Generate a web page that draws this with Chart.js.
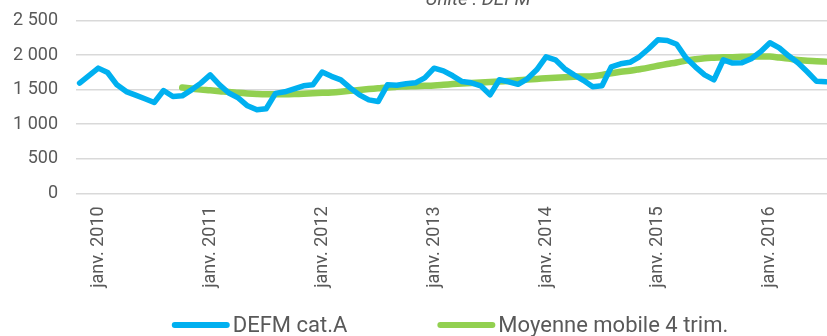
<!DOCTYPE html>
<html>
<head>
<meta charset="utf-8">
<script src="https://cdn.jsdelivr.net/npm/chart.js@4.4.1/dist/chart.umd.min.js"></script>
<style>
  html, body { margin: 0; padding: 0; background: #ffffff; overflow: hidden; width: 827px; height: 336px; }
  #wrap { position: absolute; left: 0; top: -13px; width: 900px; height: 349px; }
</style>
</head>
<body>
<div id="wrap"><canvas id="chart" width="900" height="349"></canvas></div>
<script>
// Monthly series, from novembre 2009 onwards
const monthNames = ['janv.', 'févr.', 'mars', 'avr.', 'mai', 'juin', 'juil.', 'août', 'sept.', 'oct.', 'nov.', 'déc.'];
const startYear = 2009;
const startMonth = 10; // index in monthNames: nov.

// Demandeurs d'emploi en fin de mois, catégorie A
const defmCatA = [
  1594, 1703, 1811, 1748, 1569, 1472, 1421, 1368, 1313, 1487,
  1400, 1410, 1497, 1594, 1714, 1569, 1451, 1380, 1266, 1208,
  1223, 1446, 1468, 1511, 1555, 1569, 1755, 1692, 1642, 1526,
  1424, 1352, 1327, 1569, 1562, 1584, 1598, 1670, 1810, 1772,
  1700, 1617, 1598, 1555, 1424, 1642, 1613, 1576, 1656, 1787,
  1975, 1931, 1801, 1714, 1634, 1540, 1555, 1830, 1874, 1895,
  1975, 2091, 2221, 2211, 2156, 1960, 1830, 1714, 1642, 1931,
  1884, 1888, 1946, 2047, 2178, 2105, 1989, 1888, 1758, 1620,
  1613
];

// Moyenne mobile sur 4 trimestres (first value available in oct. 2010)
const moyenneMobile = [
  null, null, null, null, null, null, null, null, null, null, null,
  1530, 1515, 1500, 1490, 1478, 1465, 1455, 1445, 1437, 1432,
  1432, 1432, 1435, 1440, 1447, 1453, 1460, 1470, 1482, 1495,
  1508, 1520, 1532, 1540, 1546, 1550, 1555, 1561, 1570, 1580,
  1588, 1595, 1603, 1610, 1617, 1625, 1635, 1645, 1655, 1664,
  1672, 1680, 1686, 1690, 1695, 1712, 1737, 1758, 1774, 1795,
  1818, 1845, 1870, 1893, 1920, 1940, 1955, 1962, 1967, 1970,
  1975, 1978, 1980, 1978, 1965, 1950, 1928, 1918, 1910, 1905
];

const xTickLabels = ['janv. 2010', 'janv. 2011', 'janv. 2012', 'janv. 2013', 'janv. 2014', 'janv. 2015', 'janv. 2016'];
const yTickValues = [0, 500, 1000, 1500, 2000, 2500];

const categories = defmCatA.map((_, i) => {
  const m = (startMonth + i) % 12;
  const y = startYear + Math.floor((startMonth + i) / 12);
  return monthNames[m] + ' ' + y;
});

const toPoints = arr => arr.map((v, i) => ({ x: i, y: v }));

const formatThousands = v => v >= 1000
  ? Math.floor(v / 1000) + ' ' + String(v % 1000).padStart(3, '0')
  : String(v);

const textColor = '#595959';
const baseFont = 'Roboto';

// Legend drawn as line samples with their labels, centred under the chart
const lineLegend = {
  id: 'lineLegend',
  afterDraw(chart) {
    const ctx = chart.ctx;
    const sets = chart.data.datasets;
    const sample = 58, gap = 3, spacing = 90;
    ctx.save();
    ctx.font = '22px ' + baseFont;
    const widths = sets.map(d => sample + gap + ctx.measureText(d.label).width);
    const total = widths.reduce((a, b) => a + b, 0) + spacing * (sets.length - 1);
    let x = (chart.width - total) / 2;
    const y = chart.height - 11;
    sets.forEach((d, i) => {
      ctx.strokeStyle = d.borderColor;
      ctx.lineWidth = 6;
      ctx.lineCap = 'round';
      ctx.beginPath();
      ctx.moveTo(x + 3, y);
      ctx.lineTo(x + sample - 3, y);
      ctx.stroke();
      ctx.fillStyle = textColor;
      ctx.textAlign = 'left';
      ctx.textBaseline = 'middle';
      ctx.fillText(d.label, x + sample + gap, y + 1);
      x += widths[i] + spacing;
    });
    ctx.restore();
  }
};

new Chart(document.getElementById('chart'), {
  type: 'line',
  data: {
    datasets: [
      {
        label: 'DEFM cat.A',
        data: toPoints(defmCatA),
        borderColor: '#00B0F0',
        backgroundColor: '#00B0F0',
        borderWidth: 5.5,
        borderJoinStyle: 'round',
        borderCapStyle: 'round',
        pointRadius: 0,
        tension: 0
      },
      {
        label: 'Moyenne mobile 4 trim.',
        data: toPoints(moyenneMobile),
        borderColor: '#92D050',
        backgroundColor: '#92D050',
        borderWidth: 6.5,
        borderJoinStyle: 'round',
        borderCapStyle: 'round',
        pointRadius: 0,
        tension: 0.4
      }
    ]
  },
  options: {
    responsive: false,
    animation: false,
    devicePixelRatio: 1,
    layout: { padding: { left: 13, right: 20, top: 0, bottom: 42.7 } },
    plugins: {
      legend: { display: false },
      tooltip: { enabled: false },
      title: {
        display: true,
        text: 'Unité : DEFM',
        fullSize: false,
        color: textColor,
        font: { family: baseFont, size: 19, style: 'italic', weight: 'normal' },
        padding: { top: 1.5, bottom: 9.2 }
      }
    },
    scales: {
      x: {
        type: 'linear',
        min: -0.386,
        max: 85.8,
        grid: { display: false, drawTicks: false },
        border: { display: false },
        afterBuildTicks: scale => {
          scale.ticks = xTickLabels.map(l => ({ value: categories.indexOf(l) }));
        },
        afterFit: scale => { scale.height = 100; },
        ticks: {
          autoSkip: false,
          minRotation: 90,
          maxRotation: 90,
          padding: 13,
          color: textColor,
          font: { family: baseFont, size: 18 },
          callback: value => categories[value]
        }
      },
      y: {
        min: 0,
        max: 2500,
        afterBuildTicks: scale => {
          scale.ticks = yTickValues.map(v => ({ value: v }));
        },
        afterFit: scale => { scale.width = 63; },
        grid: { color: '#d9d9d9', lineWidth: 1.5, drawTicks: false },
        border: { display: false },
        ticks: {
          padding: 18,
          color: textColor,
          font: { family: baseFont, size: 18 },
          callback: v => formatThousands(v)
        }
      }
    }
  },
  plugins: [lineLegend]
});
</script>
</body>
</html>
